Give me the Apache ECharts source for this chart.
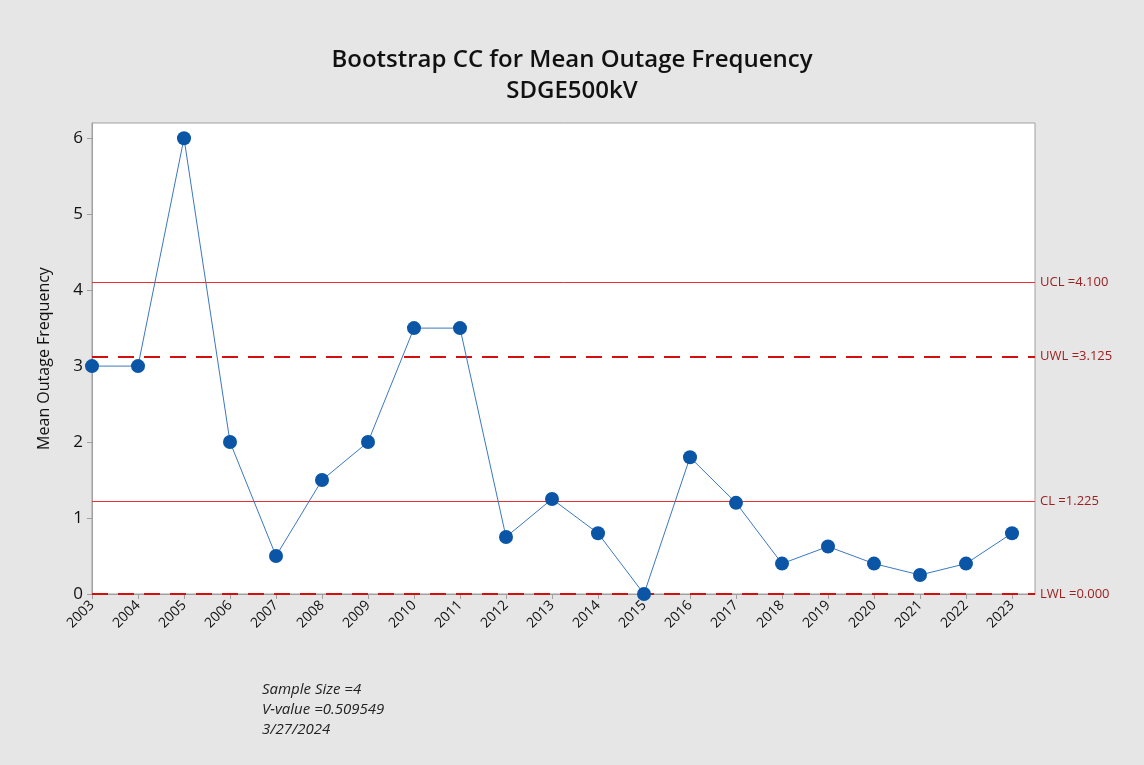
<!DOCTYPE html>
<html>
<head>
<meta charset="utf-8">
<script src="https://cdn.jsdelivr.net/npm/echarts@6/dist/echarts.min.js"></script>
<style>
  html, body { margin: 0; padding: 0; background: #e6e6e6; }
  #chart { width: 1144px; height: 765px; }
</style>
</head>
<body>
<div id="chart"></div>
<script>
// years on the x axis
const years = [2003, 2004, 2005, 2006, 2007, 2008, 2009, 2010, 2011, 2012, 2013,
  2014, 2015, 2016, 2017, 2018, 2019, 2020, 2021, 2022, 2023];
// mean outage frequency per year
const meanFreq = [3, 3, 6, 2, 0.5, 1.5, 2, 3.5, 3.5, 0.75, 1.25,
  0.8, 0, 1.8, 1.2, 0.4, 0.625, 0.4, 0.25, 0.4, 0.8];
// control limits
const limitNames = ["UCL", "UWL", "CL", "LWL"];
const limitValues = [4.1, 3.125, 1.225, 0];
const limitDashed = [false, true, false, true];
const footnotes = ["Sample Size =4", "V-value =0.509549", "3/27/2024"];

const chart = echarts.init(document.getElementById("chart"));

const seriesData = years.map((y, i) => [y, meanFreq[i]]);

const markLines = limitNames.map((name, i) => ({
  name: name,
  yAxis: limitValues[i],
  lineStyle: {
    color: limitDashed[i] ? "#d40f0f" : "#e83030",
    width: limitDashed[i] ? 2 : 1,
    type: limitDashed[i] ? [16, 10] : "solid",
    opacity: 1,
  },
  label: {
    formatter: name + " =" + limitValues[i].toFixed(3),
  },
}));

const option = {
  backgroundColor: "#e6e6e6",
  textStyle: { fontFamily: "Open Sans" },
  title: {
    text: "Bootstrap CC for Mean Outage Frequency\nSDGE500kV",
    left: "center",
    top: 40,
    textStyle: {
      fontSize: 24,
      fontWeight: 600,
      color: "#111",
      lineHeight: 31,
      fontFamily: "Open Sans",
    },
  },
  grid: {
    left: 92,
    right: 109,
    top: 123,
    bottom: 171,
    show: true,
    backgroundColor: "#ffffff",
    borderColor: "#a0a0a0",
    borderWidth: 1,
  },
  xAxis: {
    type: "value",
    min: 2003,
    max: 2023.5,
    interval: 1,
    splitLine: { show: false },
    axisLine: { show: true, lineStyle: { color: "#a0a0a0" } },
    axisTick: { show: true, length: 5, lineStyle: { color: "#a0a0a0" } },
    axisLabel: {
      rotate: 45,
      fontSize: 14,
      color: "#111",
      margin: 9,
      showMaxLabel: false,
      formatter: (v) => (Number.isInteger(v) ? String(v) : ""),
    },
  },
  yAxis: {
    type: "value",
    min: 0,
    max: 6.2,
    interval: 1,
    name: "Mean Outage Frequency",
    nameLocation: "middle",
    nameGap: 40,
    nameTextStyle: { fontSize: 16, color: "#111" },
    splitLine: { show: false },
    axisLine: { show: true, lineStyle: { color: "#a0a0a0" } },
    axisTick: { show: true, length: 5, lineStyle: { color: "#a0a0a0" } },
    axisLabel: {
      fontSize: 17,
      color: "#111",
      margin: 9,
      showMaxLabel: false,
      formatter: (v) => (Number.isInteger(v) ? String(v) : ""),
    },
  },
  series: [
    {
      name: "Mean Outage Frequency",
      type: "line",
      data: seriesData,
      symbol: "circle",
      symbolSize: 14,
      itemStyle: { color: "#0a55a5" },
      lineStyle: { color: "#3a78c0", width: 1 },
      z: 5,
      markLine: {
        silent: true,
        symbol: ["none", "none"],
        precision: 3,
        label: {
          position: "end",
          distance: 5,
          color: "#9c2020",
          fontSize: 13,
          fontFamily: "Open Sans",
        },
        data: markLines,
        z: 3,
      },
    },
  ],
  graphic: [
    {
      type: "text",
      left: 262,
      top: 680,
      style: {
        text: footnotes.join("\n"),
        font: "italic 15px 'Open Sans'",
        lineHeight: 20,
        fill: "#222",
      },
    },
  ],
};

chart.setOption(option);
</script>
</body>
</html>
